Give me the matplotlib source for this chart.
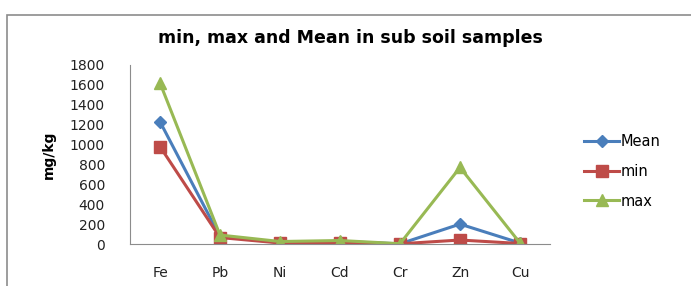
import matplotlib.pyplot as plt
from matplotlib.patches import Rectangle

# data
metals = ['Fe', 'Pb', 'Ni', 'Cd', 'Cr', 'Zn', 'Cu']
mean_vals = [1230, 75, 15, 25, 2, 200, 10]
min_vals = [980, 65, 10, 15, 2, 40, 5]
max_vals = [1620, 90, 25, 35, 3, 770, 10]

fig = plt.figure(figsize=(6.91, 2.86), dpi=100)
fig.patches.append(Rectangle((7 / 691, -0.1), 1.2, 1 - 15 / 286 + 0.1,
                             transform=fig.transFigure, fill=False,
                             edgecolor='#8c8c8c', linewidth=1.2))

ax = fig.add_axes([130 / 691, 1 - 244 / 286, 420 / 691, (244 - 65) / 286])
x = range(len(metals))
ax.plot(x, mean_vals, color='#4A7EBB', lw=2.2, marker='D', ms=6, label='Mean')
ax.plot(x, min_vals, color='#BE4B48', lw=2.2, marker='s', ms=8, label='min')
ax.plot(x, max_vals, color='#98B954', lw=2.2, marker='^', ms=8, label='max')

ax.set_xlim(-0.5, len(metals) - 0.5)
ax.set_ylim(0, 1800)
ax.set_yticks(range(0, 1801, 200))
ax.set_xticks(list(x))
ax.set_xticklabels(metals)
ax.tick_params(axis='y', length=0, pad=18, labelsize=10, labelcolor='#222222')
ax.tick_params(axis='x', length=0, pad=16, labelsize=10, labelcolor='#222222')
for s in ['top', 'right']:
    ax.spines[s].set_visible(False)
ax.spines['left'].set_color('#8c8c8c')
ax.spines['bottom'].set_color('#8c8c8c')

ax.set_ylabel('mg/kg', fontweight='bold', fontsize=10, labelpad=10)
fig.text(350 / 691, 1 - 38 / 286, 'min, max and Mean in sub soil samples',
         ha='center', va='center', fontsize=12.5, fontweight='bold')

ax.legend(loc='center left', bbox_to_anchor=(1.05, 0.405), frameon=False,
          fontsize=10.5, handlelength=2.4, handletextpad=0.1, labelspacing=1.0)

fig.savefig('out.png', dpi=100)
